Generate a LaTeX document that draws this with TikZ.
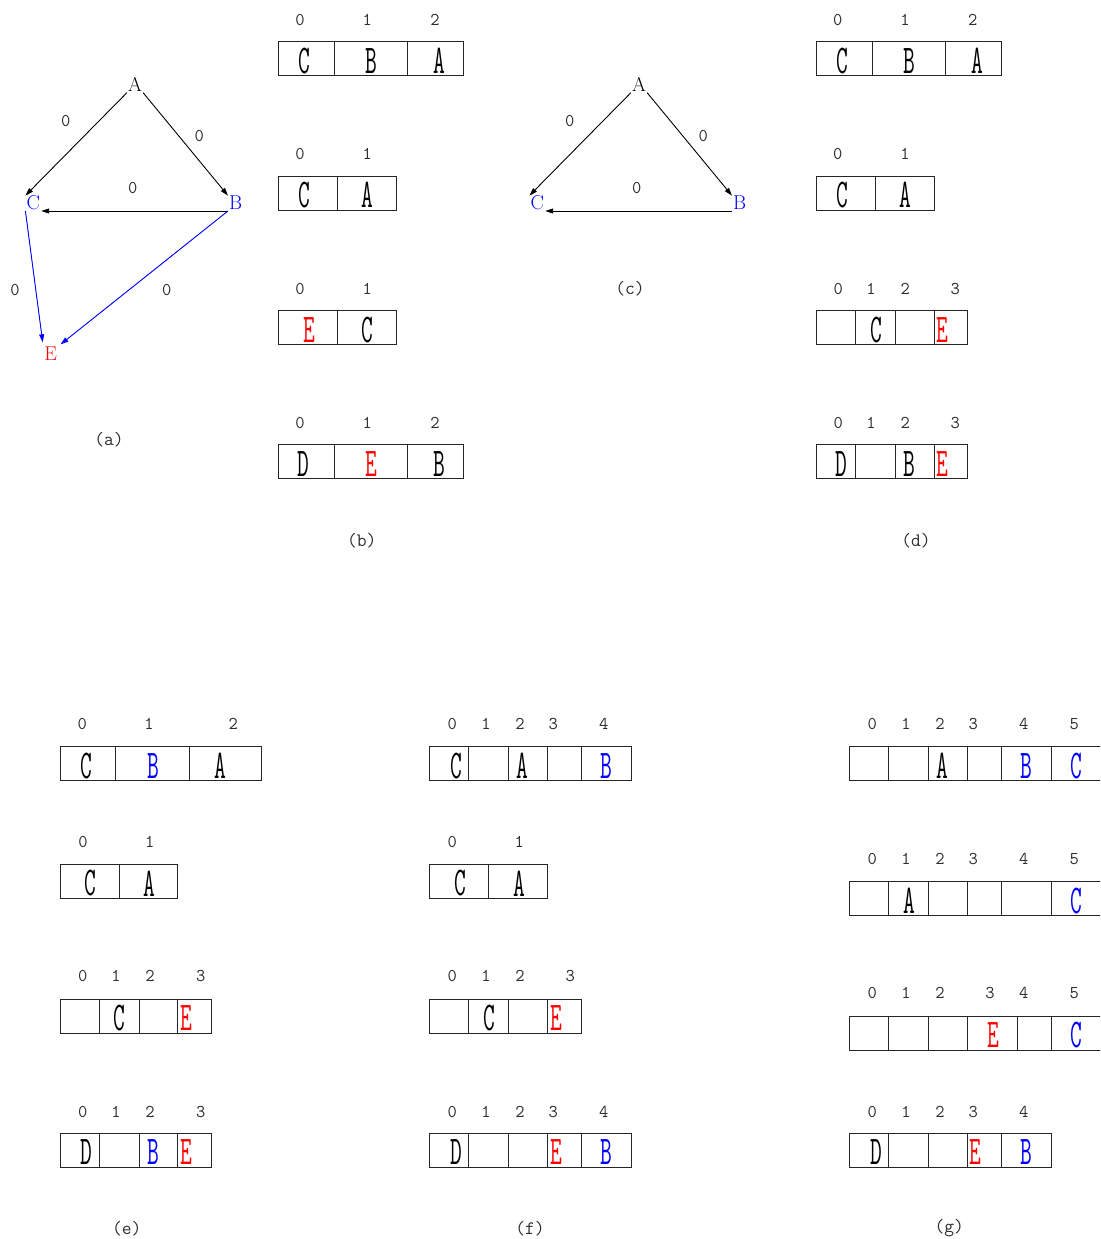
\documentclass[tikz,border=0pt]{standalone}
\usepackage{fontspec}
\usetikzlibrary{arrows.meta}
\definecolor{gblue}{RGB}{0,0,255}
\definecolor{gred}{RGB}{255,0,0}
\definecolor{ggray}{RGB}{45,45,45}
\tikzset{
  idx/.style={font=\ttfamily\fontsize{18}{18}\selectfont, text=ggray, inner sep=0pt},
  capt/.style={font=\ttfamily\fontsize{19}{19}\selectfont, text=ggray, inner sep=0pt},
  cellbox/.style={draw=black!85, line width=1pt},
  lt/.style={inner sep=0pt, font=\ttfamily\fontsize{24}{24}\selectfont},
  gnode/.style={font=\fontsize{20}{20}\selectfont, inner sep=1pt, text height=13pt, text depth=0pt},
  garrow/.style={line width=0.9pt, -{Triangle[length=8pt,width=5pt]}},
}
% #1 top, #2 left, #3 right, #4 dividers
\newcommand\cellrow[4]{%
  \draw[cellbox] (#2,#1) rectangle (#3,#1+34);
  \foreach \d in {#4} \draw[cellbox] (\d,#1) -- (\d,#1+34);
}
% #1 prefix, #2 y, #3 list x/n
\newcommand\idxrow[3]{%
  \foreach \x/\n in {#3} \node[idx] (#1i\n) at (\x,#2) {\n};
}
% #1 name, #2 x, #3 top, #4 colour, #5 letter
\newcommand\cl[5]{%
  \node[lt,text=#4] (#1) at (#2,#3+19) {\scalebox{0.95}[1.7]{#5}};
}
\begin{document}
\begin{tikzpicture}[x=1pt,y=-1pt]
\clip (0,0) rectangle (1100,1239);
\fill[white] (0,0) rectangle (1100,1239);

% ---------- (a) ----------
\node[gnode] (A) at (135,85) {A};
\node[gnode,text=gblue] (C) at (33.3,203.3) {C};
\node[gnode,text=gblue] (B) at (235.7,203.3) {B};
\node[gnode,text=gred] (E) at (50.7,354) {E};
\draw[garrow] (A.south west) -- (C.north west);
\draw[garrow] (A.south east) -- (B.north west);
\draw[garrow] (B.south west) -- (C.south east);
\draw[garrow,draw=gblue,fill=gblue,shorten >=4pt] (C.south west) -- (E.north west);
\draw[garrow,draw=gblue,fill=gblue,shorten >=3pt] (B.south west) -- (E.north east);
\node[idx] (lAC) at (65.7,121) {0};
\node[idx] (lAB) at (199.3,136.5) {0};
\node[idx] (lBC) at (132.7,187.5) {0};
\node[idx] (lCE) at (15,289.5) {0};
\node[idx] (lBE) at (166.7,289.5) {0};
\node[capt] (capa) at (109,440) {(a)};

% ---------- (c) ----------
\node[gnode] (cA) at (639,85) {A};
\node[gnode,text=gblue] (cC) at (537.3,203.3) {C};
\node[gnode,text=gblue] (cB) at (739.7,203.3) {B};
\draw[garrow] (cA.south west) -- (cC.north west);
\draw[garrow] (cA.south east) -- (cB.north west);
\draw[garrow] (cB.south west) -- (cC.south east);
\node[idx] (clAC) at (569.7,121) {0};
\node[idx] (clAB) at (703.3,136.5) {0};
\node[idx] (clBC) at (636.7,187.5) {0};
\node[capt] (capc) at (630,289) {(c)};

% ---------- (b) ----------
\cellrow{41.7}{278.3}{463.3}{334.3,407.7}
\idxrow{b1}{20}{300/0,367.3/1,435/2}
\cl{b1C}{304.3}{41.7}{black}{C}
\cl{b1B}{371.7}{41.7}{black}{B}
\cl{b1A}{439.3}{41.7}{black}{A}

\cellrow{176}{278.3}{396.3}{337.7}
\idxrow{b2}{154}{300/0,367.3/1}
\cl{b2C}{304.3}{176}{black}{C}
\cl{b2A}{367.3}{176}{black}{A}

\cellrow{310.7}{278.3}{396.3}{337.7}
\idxrow{b3}{289}{300/0,367.3/1}
\cl{b3E}{309}{310.7}{gred}{E}
\cl{b3C}{367.3}{310.7}{black}{C}

\cellrow{444.7}{278.3}{463.3}{334.3,407.7}
\idxrow{b4}{423.3}{300/0,367.3/1,435/2}
\cl{b4D}{303.3}{444.7}{black}{D}
\cl{b4E}{371.7}{444.7}{gred}{E}
\cl{b4B}{439.3}{444.7}{black}{B}
\node[capt] (capb) at (361.7,540.7) {(b)};

% ---------- (d) ----------
\cellrow{41.7}{816}{1001}{872,945.4}
\idxrow{d1}{20}{837.7/0,905/1,972.7/2}
\cl{d1C}{842}{41.7}{black}{C}
\cl{d1B}{909.4}{41.7}{black}{B}
\cl{d1A}{977}{41.7}{black}{A}

\cellrow{176}{816}{934}{875.4}
\idxrow{d2}{154}{837.7/0,905/1}
\cl{d2C}{842}{176}{black}{C}
\cl{d2A}{905}{176}{black}{A}

\cellrow{310.7}{816}{967.3}{855,895,934}
\idxrow{d3}{289}{838.3/0,871/1,905.3/2,955.3/3}
\cl{d3C}{876}{310.7}{black}{C}
\cl{d3E}{942.7}{310.7}{gred}{E}

\cellrow{444.7}{816}{967.3}{855,895,934}
\idxrow{d4}{423.3}{838.3/0,871/1,905.3/2,955.3/3}
\cl{d4D}{841.7}{444.7}{black}{D}
\cl{d4B}{909.3}{444.7}{black}{B}
\cl{d4E}{942.7}{444.7}{gred}{E}
\node[capt] (capd) at (916,540.7) {(d)};

% ---------- (e) ----------
\cellrow{746.7}{60}{261.7}{115.7,189.3}
\idxrow{e1}{724}{82.3/0,149/1,233.3/2}
\cl{e1C}{86}{746.7}{black}{C}
\cl{e1B}{153.3}{746.7}{gblue}{B}
\cl{e1A}{220.7}{746.7}{black}{A}

\cellrow{864.3}{60}{177.7}{119}
\idxrow{e2}{841.7}{83/0,149.7/1}
\cl{e2C}{90}{864.3}{black}{C}
\cl{e2A}{149.3}{864.3}{black}{A}

\cellrow{999}{60}{211.7}{99.3,139,177.7}
\idxrow{e3}{975.7}{82.7/0,116/1,150/2,200.7/3}
\cl{e3C}{119.3}{999}{black}{C}
\cl{e3E}{186.7}{999}{gred}{E}

\cellrow{1133.3}{60}{211.7}{99.3,139,177.7}
\idxrow{e4}{1111.7}{82.7/0,116/1,150/2,200.7/3}
\cl{e4D}{86}{1133.3}{black}{D}
\cl{e4B}{153.3}{1133.3}{gblue}{B}
\cl{e4E}{186.7}{1133.3}{gred}{E}
\node[capt] (cape) at (126.7,1229) {(e)};

% ---------- (f) ----------
\cellrow{746.7}{429.3}{631.3}{468.3,508.3,547.3,581}
\idxrow{f1}{724}{452.3/0,486/1,520/2,553.3/3,603.7/4}
\cl{f1C}{456}{746.7}{black}{C}
\cl{f1A}{522.7}{746.7}{black}{A}
\cl{f1B}{606.7}{746.7}{gblue}{B}

\cellrow{864.3}{429.3}{547.3}{488.7}
\idxrow{f2}{841.7}{452.3/0,519.3/1}
\cl{f2C}{460}{864.3}{black}{C}
\cl{f2A}{519.3}{864.3}{black}{A}

\cellrow{999}{429.3}{581.3}{468.7,508.3,547.7}
\idxrow{f3}{975.7}{452.3/0,486/1,520/2,570.3/3}
\cl{f3C}{489.3}{999}{black}{C}
\cl{f3E}{556.7}{999}{gred}{E}

\cellrow{1133.3}{429.3}{631.3}{468.7,508.3,547.7,581.3}
\idxrow{f4}{1111.7}{452.3/0,486/1,520/2,553.3/3,603.7/4}
\cl{f4D}{456}{1133.3}{black}{D}
\cl{f4E}{556.7}{1133.3}{gred}{E}
\cl{f4B}{606.7}{1133.3}{gblue}{B}
\node[capt] (capf) at (530,1229) {(f)};

% ---------- (g) ----------
\cellrow{746.7}{849.3}{1101}{888.3,928.3,967.3,1001,1051.3}
\idxrow{g1}{724}{872.3/0,906/1,940/2,973.3/3,1023.7/4,1074.3/5}
\cl{g1A}{942.7}{746.7}{black}{A}
\cl{g1B}{1026.7}{746.7}{gblue}{B}
\cl{g1C}{1076.7}{746.7}{gblue}{C}

\cellrow{881.7}{849.3}{1101}{888.3,928.3,967.3,1001,1051.3}
\idxrow{g2}{859.3}{872.3/0,906/1,940/2,973.3/3,1023.7/4,1074.3/5}
\cl{g2A}{909}{881.7}{black}{A}
\cl{g2C}{1076.7}{881.7}{gblue}{C}

\cellrow{1016}{849.3}{1101}{888.3,928.3,967.3,1017.7,1051.3}
\idxrow{g3}{993.3}{872.3/0,906/1,940/2,990/3,1023.7/4,1074.3/5}
\cl{g3E}{993.3}{1016}{gred}{E}
\cl{g3C}{1076.7}{1016}{gblue}{C}

\cellrow{1133.3}{849.3}{1051.3}{888.3,928.3,967.3,1001}
\idxrow{g4}{1111.7}{872.3/0,906/1,940/2,973.3/3,1023.7/4}
\cl{g4D}{876}{1133.3}{black}{D}
\cl{g4E}{975.7}{1133.3}{gred}{E}
\cl{g4B}{1026.7}{1133.3}{gblue}{B}
\node[capt] (capg) at (949.3,1228.3) {(g)};
\end{tikzpicture}
\end{document}
